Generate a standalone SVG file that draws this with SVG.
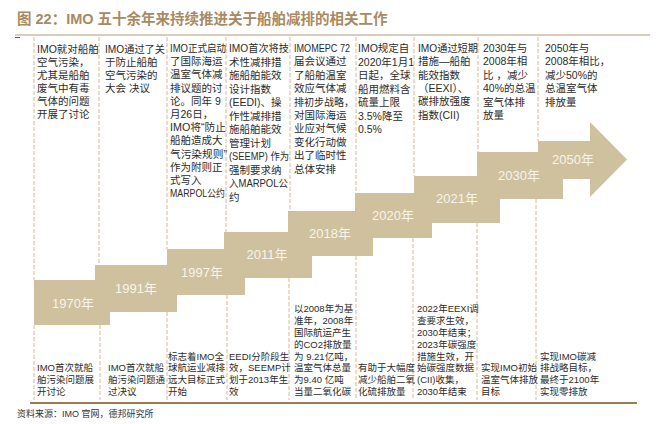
<svg xmlns="http://www.w3.org/2000/svg" width="666" height="424" viewBox="0 0 666 424">
<style>
.t { font-family: "Liberation Sans", "Noto Sans CJK SC", sans-serif; font-size: 10.5px; fill: #2b2b2b; }
.b { font-size: 9.5px; }
.yr { font-family: "Liberation Sans", "Noto Sans CJK SC", sans-serif; font-size: 13px; fill: #f8f4ea; text-anchor: middle; }
.dash { stroke: #e2b690; stroke-width: 1; stroke-dasharray: 4 2; fill: none; }
.title { font-family: "Liberation Sans", "Noto Sans CJK SC", sans-serif; font-size: 14.5px; font-weight: bold; fill: #a88a62; }
.src { font-family: "Liberation Sans", "Noto Sans CJK SC", sans-serif; font-size: 9px; fill: #333333; }
</style>
<rect width="666" height="424" fill="#ffffff"/>
<text class="title" x="17" y="24">图 22：IMO 五十余年来持续推进关于船舶减排的相关工作</text>
<line x1="15" y1="35" x2="650" y2="35" stroke="#b49b76" stroke-width="1"/>
<line x1="15" y1="37.5" x2="20" y2="37.5" stroke="#6b5a45" stroke-width="1"/>

<g id="arrow">
<path d="M34,280 H95 V265 H167 V249 H224 V232 H288 V211 H355 V193 H414 V176 H477 V152 H538 V141 H590 V122 L627,159.5 L590,197 V179 H563 V199 H500 V223 H432 V238 H373 V256 H312 V278 H245 V295 H177 V312 H110 V325 H34 Z" fill="#cfc09e"/>
</g>

<g id="connectors">
<line class="dash" x1="34" y1="37" x2="34" y2="280"/>
<line class="dash" x1="99" y1="37" x2="99" y2="265"/>
<line class="dash" x1="167" y1="37" x2="167" y2="249"/>
<line class="dash" x1="226" y1="37" x2="226" y2="232"/>
<line class="dash" x1="290" y1="37" x2="290" y2="211"/>
<line class="dash" x1="356" y1="37" x2="356" y2="193"/>
<line class="dash" x1="414" y1="37" x2="414" y2="176"/>
<line class="dash" x1="478" y1="37" x2="478" y2="152"/>
<line class="dash" x1="538" y1="37" x2="538" y2="141"/>
<line class="dash" x1="34" y1="325" x2="34" y2="400"/>
<line class="dash" x1="100" y1="325" x2="100" y2="400"/>
<line class="dash" x1="167" y1="312" x2="167" y2="400"/>
<line class="dash" x1="227" y1="295" x2="227" y2="400"/>
<line class="dash" x1="289" y1="278" x2="289" y2="400"/>
<line class="dash" x1="356" y1="256" x2="356" y2="400"/>
<line class="dash" x1="413" y1="238" x2="413" y2="400"/>
<line class="dash" x1="477" y1="223" x2="477" y2="400"/>
<line class="dash" x1="536" y1="199" x2="536" y2="400"/>
</g>

<g id="y1970">
<text class="yr" x="73" y="308">1970年</text>
<text class="t" x="37" y="53"><tspan x="37">IMO就对船舶</tspan><tspan x="37" dy="12.9">空气污染，</tspan><tspan x="37" dy="12.9">尤其是船舶</tspan><tspan x="37" dy="12.9">废气中有毒</tspan><tspan x="37" dy="12.9">气体的问题</tspan><tspan x="37" dy="12.9">开展了讨论</tspan></text>
<text class="t b" x="37" y="371.4"><tspan x="37">IMO首次就船</tspan><tspan x="37" dy="11.8">舶污染问题展</tspan><tspan x="37" dy="11.8">开讨论</tspan></text>
</g>

<g id="y1991">
<text class="yr" x="136" y="293">1991年</text>
<text class="t" x="105" y="53" textLength="60" lengthAdjust="spacingAndGlyphs">IMO通过了关</text>
<text class="t" x="105" y="65.9"><tspan x="105">于防止船舶</tspan><tspan x="105" dy="12.9">空气污染的</tspan><tspan x="105" dy="12.9">大会 决议</tspan></text>
<text class="t b" x="108" y="371.4"><tspan x="108">IMO首次就船</tspan><tspan x="108" dy="11.8">舶污染问题通</tspan><tspan x="108" dy="11.8">过决议</tspan></text>
</g>

<g id="y1997">
<text class="yr" x="202" y="277">1997年</text>
<text class="t" x="170" y="52" textLength="56" lengthAdjust="spacingAndGlyphs">IMO正式启动</text>
<text class="t" x="170" y="65.2"><tspan x="170">了国际海运</tspan><tspan x="170" dy="13.2">温室气体减</tspan><tspan x="170" dy="13.2">排议题的讨</tspan><tspan x="170" dy="13.2">论。同年 9</tspan><tspan x="170" dy="13.2">月26日，</tspan></text>
<text class="t" x="170" y="131.2" textLength="56" lengthAdjust="spacingAndGlyphs">IMO将“防止</text>
<text class="t" x="170" y="144.4">船舶造成大</text>
<text class="t" x="170" y="157.6" textLength="57" lengthAdjust="spacingAndGlyphs">气污染规则”</text>
<text class="t" x="170" y="170.8"><tspan x="170">作为附则正</tspan><tspan x="170" dy="13.2">式写入</tspan></text>
<text class="t" x="0" y="0" transform="translate(170,197.2) scale(0.84,1)">MARPOL公约</text>
<text class="t b" x="168" y="359.6"><tspan x="168">标志着IMO全</tspan><tspan x="168" dy="11.8">球航运业减排</tspan><tspan x="168" dy="11.8">远大目标正式</tspan><tspan x="168" dy="11.8">开始</tspan></text>
</g>

<g id="y2011">
<text class="yr" x="267" y="259">2011年</text>
<text class="t" x="229" y="52" textLength="60" lengthAdjust="spacingAndGlyphs">IMO首次将技</text>
<text class="t" x="229" y="65.5"><tspan x="229">术性减排措</tspan><tspan x="229" dy="13.5">施船舶能效</tspan><tspan x="229" dy="13.5">设计指数</tspan><tspan x="229" dy="13.5">(EEDI)、操</tspan><tspan x="229" dy="13.5">作性减排措</tspan><tspan x="229" dy="13.5">施船舶能效</tspan><tspan x="229" dy="13.5">管理计划</tspan></text>
<text class="t" x="229" y="160" textLength="60" lengthAdjust="spacingAndGlyphs">(SEEMP) 作为</text>
<text class="t" x="229" y="173.5">强制要求纳</text>
<text class="t" x="229" y="187" textLength="59" lengthAdjust="spacingAndGlyphs">入MARPOL公</text>
<text class="t" x="229" y="200.5">约</text>
<text class="t b" x="229" y="359.6"><tspan x="229">EEDI分阶段生</tspan><tspan x="229" dy="11.8">效，SEEMP计</tspan><tspan x="229" dy="11.8">划于2013年生</tspan><tspan x="229" dy="11.8">效</tspan></text>
</g>

<g id="y2018">
<text class="yr" x="330" y="238">2018年</text>
<text class="t" x="294" y="52" textLength="56" lengthAdjust="spacingAndGlyphs">IMOMEPC 72</text>
<text class="t" x="294" y="65.4"><tspan x="294">届会议通过</tspan><tspan x="294" dy="13.4">了船舶温室</tspan><tspan x="294" dy="13.4">效应气体减</tspan></text>
<text class="t" x="294" y="105.6" textLength="60" lengthAdjust="spacingAndGlyphs">排初步战略，</text>
<text class="t" x="294" y="119"><tspan x="294">对国际海运</tspan><tspan x="294" dy="13.4">业应对气候</tspan><tspan x="294" dy="13.4">变化行动做</tspan><tspan x="294" dy="13.4">出了临时性</tspan><tspan x="294" dy="13.4">总体安排</tspan></text>
<text class="t b" x="294" y="312.4"><tspan x="294">以2008年为基</tspan><tspan x="294" dy="11.8">准年，2008年</tspan><tspan x="294" dy="11.8">国际航运产生</tspan><tspan x="294" dy="11.8">的CO2排放量</tspan><tspan x="294" dy="11.8">为 9.21亿吨，</tspan><tspan x="294" dy="11.8">温室气体总量</tspan><tspan x="294" dy="11.8">为9.40 亿吨</tspan><tspan x="294" dy="11.8">当量二氧化碳</tspan></text>
</g>

<g id="y2020">
<text class="yr" x="393" y="220">2020年</text>
<text class="t" x="358" y="52"><tspan x="358">IMO规定自</tspan><tspan x="358" dy="13.5">2020年1月1</tspan><tspan x="358" dy="13.5">日起，全球</tspan><tspan x="358" dy="13.5">船用燃料含</tspan><tspan x="358" dy="13.5">硫量上限</tspan><tspan x="358" dy="13.5">3.5%降至</tspan><tspan x="358" dy="13.5">0.5%</tspan></text>
<text class="t b" x="358" y="371.4"><tspan x="358">有助于大幅度</tspan><tspan x="358" dy="11.8">减少船舶二氧</tspan><tspan x="358" dy="11.8">化硫排放量</tspan></text>
</g>

<g id="y2021">
<text class="yr" x="457" y="203">2021年</text>
<text class="t" x="418" y="52" textLength="60" lengthAdjust="spacingAndGlyphs">IMO通过短期</text>
<text class="t" x="418" y="65.3"><tspan x="418">措施—船舶</tspan><tspan x="418" dy="13.3">能效指数</tspan><tspan x="418" dy="13.3">（EEXI）、</tspan><tspan x="418" dy="13.3">碳排放强度</tspan><tspan x="418" dy="13.3">指数(CII)</tspan></text>
<text class="t b" x="417" y="312.4"><tspan x="417">2022年EEXI调</tspan><tspan x="417" dy="11.8">查要求生效，</tspan><tspan x="417" dy="11.8">2030年结束；</tspan><tspan x="417" dy="11.8">2023年碳强度</tspan><tspan x="417" dy="11.8">措施生效，开</tspan><tspan x="417" dy="11.8">始碳强度数据</tspan><tspan x="417" dy="11.8">(CII)收集，</tspan><tspan x="417" dy="11.8">2030年结束</tspan></text>
</g>

<g id="y2030">
<text class="yr" x="519" y="180">2030年</text>
<text class="t" x="483" y="52"><tspan x="483">2030年与</tspan><tspan x="483" dy="13.4">2008年相</tspan><tspan x="483" dy="13.4">比 ，减少</tspan><tspan x="483" dy="13.4">40%的总温</tspan><tspan x="483" dy="13.4">室气体排</tspan><tspan x="483" dy="13.4">放量</tspan></text>
<text class="t b" x="481" y="371.4"><tspan x="481">实现IMO初始</tspan><tspan x="481" dy="11.8">温室气体排放</tspan><tspan x="481" dy="11.8">目标</tspan></text>
</g>

<g id="y2050">
<text class="yr" x="573" y="164">2050年</text>
<text class="t" x="545" y="52"><tspan x="545">2050年与</tspan><tspan x="545" dy="13.4">2008年相比，</tspan><tspan x="545" dy="13.4">减少50%的</tspan><tspan x="545" dy="13.4">总温室气体</tspan><tspan x="545" dy="13.4">排放量</tspan></text>
<text class="t b" x="540" y="359.6"><tspan x="540">实现IMO碳减</tspan><tspan x="540" dy="11.8">排战略目标，</tspan><tspan x="540" dy="11.8">最终于2100年</tspan><tspan x="540" dy="11.8">实现零排放</tspan></text>
</g>

<line x1="30" y1="403" x2="637" y2="403" stroke="#9c7b55" stroke-width="2"/>
<text class="src" x="17" y="417">资料来源：IMO 官网，德邦研究所</text>
</svg>
